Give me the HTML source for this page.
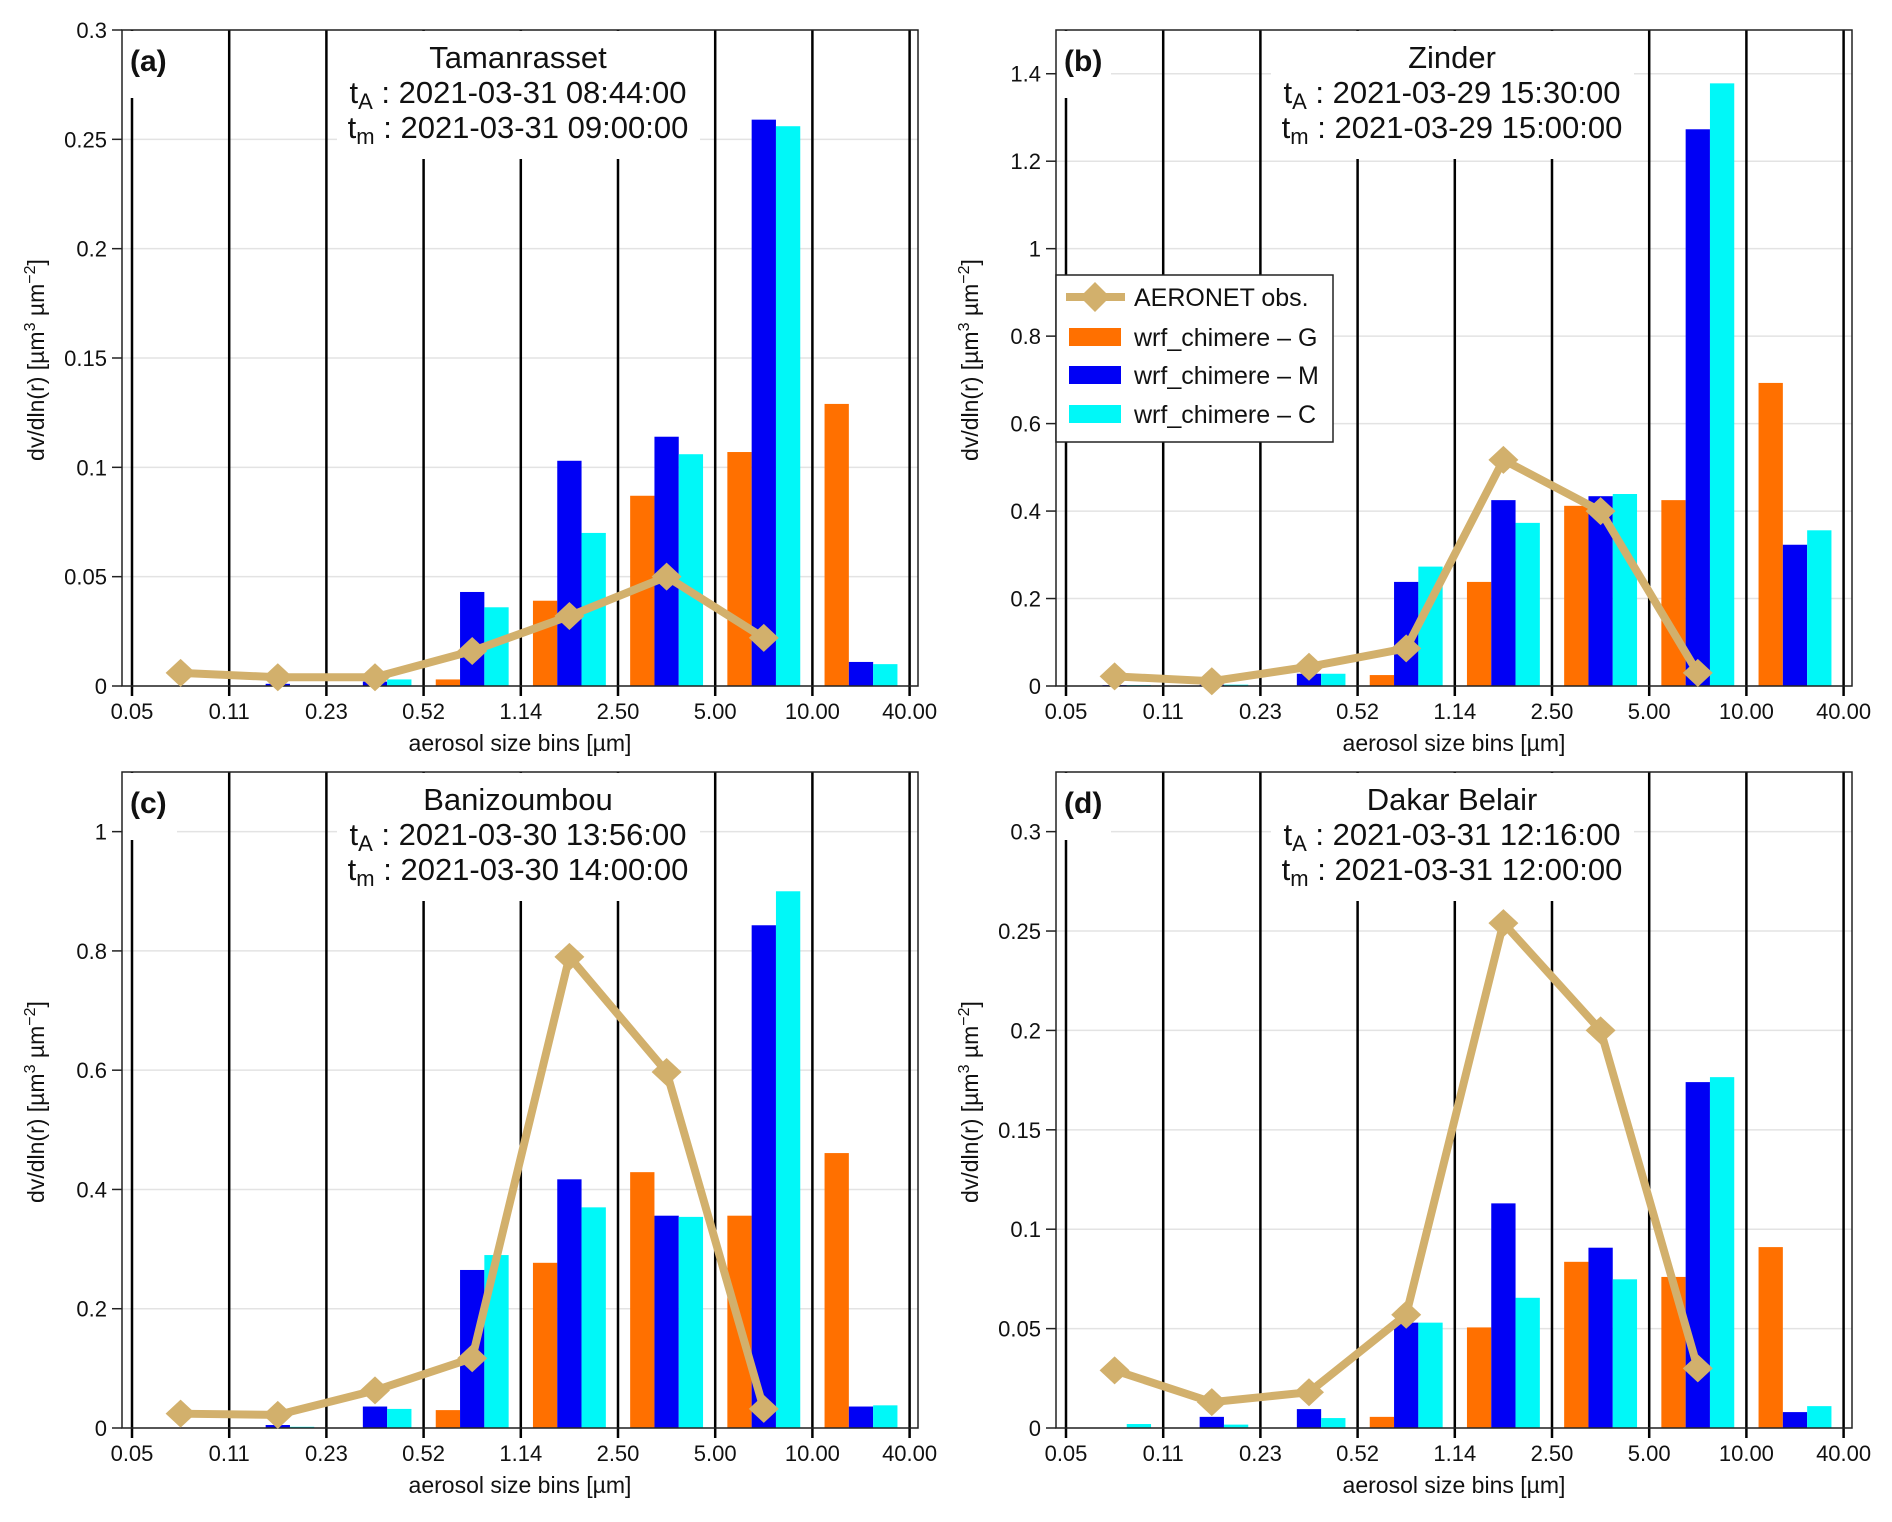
<!DOCTYPE html>
<html><head><meta charset="utf-8"><style>
html,body{margin:0;padding:0;background:#fff;}
svg{display:block;font-family:"Liberation Sans",sans-serif;}
</style></head><body>
<svg id="fig" width="1892" height="1522" viewBox="0 0 1892 1522" xmlns="http://www.w3.org/2000/svg"></svg>
<script>
const binLabels = ["0.05","0.11","0.23","0.52","1.14","2.50","5.00","10.00","40.00"];
// Panel (a) Tamanrasset
const aeronetA = [0.006,0.004,0.004,0.016,0.032,0.050,0.022];
const gA = [0,0,0,0.003,0.039,0.087,0.107,0.129];
const mA = [0,0.001,0.002,0.043,0.103,0.114,0.259,0.011];
const cA = [0,0,0.003,0.036,0.070,0.106,0.256,0.010];
const yTicksA = [0,0.05,0.1,0.15,0.2,0.25,0.3];
const yLabelsA = ["0","0.05","0.1","0.15","0.2","0.25","0.3"];
// Panel (b) Zinder
const aeronetB = [0.022,0.011,0.044,0.086,0.517,0.400,0.030];
const gB = [0,0,0,0.025,0.238,0.412,0.425,0.693];
const mB = [0.002,0.003,0.028,0.238,0.425,0.434,1.273,0.323];
const cB = [0.002,0.003,0.028,0.273,0.373,0.439,1.378,0.356];
const yTicksB = [0,0.2,0.4,0.6,0.8,1,1.2,1.4];
const yLabelsB = ["0","0.2","0.4","0.6","0.8","1","1.2","1.4"];
// Panel (c) Banizoumbou
const aeronetC = [0.024,0.022,0.063,0.117,0.790,0.597,0.032];
const gC = [0,0,0,0.030,0.277,0.429,0.356,0.461];
const mC = [0,0.005,0.036,0.265,0.417,0.356,0.843,0.036];
const cC = [0,0.002,0.032,0.290,0.370,0.354,0.900,0.038];
const yTicksC = [0,0.2,0.4,0.6,0.8,1];
const yLabelsC = ["0","0.2","0.4","0.6","0.8","1"];
// Panel (d) Dakar Belair
const aeronetD = [0.029,0.013,0.018,0.057,0.254,0.200,0.030];
const gD = [0,0,0,0.0056,0.0506,0.0836,0.076,0.091];
const mD = [0,0.0056,0.0095,0.053,0.113,0.0907,0.174,0.008];
const cD = [0.002,0.0017,0.005,0.053,0.0655,0.0748,0.1765,0.011];
const yTicksD = [0,0.05,0.1,0.15,0.2,0.25,0.3];
const yLabelsD = ["0","0.05","0.1","0.15","0.2","0.25","0.3"];

const panels = [
 {tag:"(a)",name:"Tamanrasset",tA:"2021-03-31 08:44:00",tm:"2021-03-31 09:00:00",left:122,top:30,ymax:0.3,obs:aeronetA,g:gA,m:mA,c:cA,ticks:yTicksA,labels:yLabelsA},
 {tag:"(b)",name:"Zinder",tA:"2021-03-29 15:30:00",tm:"2021-03-29 15:00:00",left:1056,top:30,ymax:1.5,obs:aeronetB,g:gB,m:mB,c:cB,ticks:yTicksB,labels:yLabelsB,legend:true},
 {tag:"(c)",name:"Banizoumbou",tA:"2021-03-30 13:56:00",tm:"2021-03-30 14:00:00",left:122,top:772,ymax:1.1,obs:aeronetC,g:gC,m:mC,c:cC,ticks:yTicksC,labels:yLabelsC},
 {tag:"(d)",name:"Dakar Belair",tA:"2021-03-31 12:16:00",tm:"2021-03-31 12:00:00",left:1056,top:772,ymax:0.33,obs:aeronetD,g:gD,m:mD,c:cD,ticks:yTicksD,labels:yLabelsD}
];
const COL = {g:"#ff7000", m:"#0000f5", c:"#00f8f8", obs:"#d2b06c"};
const NS = "http://www.w3.org/2000/svg";
const svg = document.getElementById("fig");
function mk(tag, attrs, parent){
  const e = document.createElementNS(NS, tag);
  for (const k in attrs) e.setAttribute(k, attrs[k]);
  (parent||svg).appendChild(e);
  return e;
}
const W = 796, H = 656, SP = 97.2;
panels.forEach((p, pi) => {
  const g = mk("g", {});
  
  
  const L = p.left, T = p.top, R = L + W, B = T + H;
  const xs = u => L + 10 + u * SP;
  const ys = v => B - v / p.ymax * H;
  p.ticks.forEach((t, i) => {
    const gl = mk("line", {x1:L, x2:R, y1:ys(t), y2:ys(t), stroke:"#e3e3e3", "stroke-width":1.5}, g);
    
    
    const tk = mk("line", {x1:L-10, x2:L, y1:ys(t), y2:ys(t), stroke:"#222", "stroke-width":1.5}, g);
    
    
    const tl = mk("text", {x:L-15, y:ys(t)+8, "text-anchor":"end", "font-size":22, fill:"#111"}, g);
    tl.textContent = p.labels[i];
    
    
  });
  binLabels.forEach((lab, i) => {
    const vl = mk("line", {x1:xs(i), x2:xs(i), y1:T, y2:B+10, stroke:"#000", "stroke-width":2.5}, g);
    
    
    const xl = mk("text", {x:xs(i), y:B+33, "text-anchor":"middle", "font-size":22, fill:"#111"}, g);
    xl.textContent = lab;
    
    
  });
  [["g",p.g],["m",p.m],["c",p.c]].forEach(([k, arr], si) => {
    arr.forEach((v, b) => {
      if (v <= 0) return;
      const x0 = xs(b + 0.125 + si * 0.25), x1 = xs(b + 0.375 + si * 0.25);
      const r = mk("rect", {x:x0, y:ys(v), width:x1-x0, height:B-ys(v), fill:COL[k]}, g);
      
      
    });
  });
  const tb = mk("rect", {x:L+215, y:T+1, width:363, height:128, fill:"#fff"}, g);
  
  
  const lb = mk("rect", {x:L+1, y:T+1, width:54, height:67, fill:"#fff"}, g);
  
  
  const fr = mk("rect", {x:L, y:T, width:W, height:H, fill:"none", stroke:"#222", "stroke-width":1.5}, g);
  
  
  const pts = p.obs.map((v, b) => xs(b + 0.5) + "," + ys(v)).join(" ");
  const pl = mk("polyline", {points:pts, fill:"none", stroke:COL.obs, "stroke-width":8, "stroke-linejoin":"round"}, g);
  
  
  p.obs.forEach((v, b) => {
    const cx = xs(b + 0.5), cy = ys(v);
    const d = mk("polygon", {points:`${cx-15},${cy} ${cx},${cy-14} ${cx+15},${cy} ${cx},${cy+14}`, fill:COL.obs}, g);
    
    
  });
  const tg = mk("text", {x:L+8, y:T+41, "font-size":30, "font-weight":"bold", fill:"#111"}, g);
  tg.textContent = p.tag;
  
  
  const cx = L + W/2 - 2;
  const t1 = mk("text", {x:cx, y:T+38, "text-anchor":"middle", "font-size":31, fill:"#111"}, g);
  t1.textContent = p.name;
  
  
  const t2 = mk("text", {x:cx, y:T+73, "text-anchor":"middle", "font-size":31, fill:"#111"}, g);
  t2.innerHTML = 't<tspan font-size="22" dy="6">A</tspan><tspan dy="-6"> : ' + p.tA + '</tspan>';
  
  
  const t3 = mk("text", {x:cx, y:T+108, "text-anchor":"middle", "font-size":31, fill:"#111"}, g);
  t3.innerHTML = 't<tspan font-size="22" dy="6">m</tspan><tspan dy="-6"> : ' + p.tm + '</tspan>';
  
  
  const xt = mk("text", {x:L + W/2, y:B+65, "text-anchor":"middle", "font-size":23, fill:"#111"}, g);
  xt.textContent = "aerosol size bins [µm]";
  
  
  const yt = mk("text", {x:0, y:0, "text-anchor":"middle", "font-size":23, fill:"#111", transform:`translate(${L-78},${T+H/2+2}) rotate(-90)`}, g);
  yt.innerHTML = 'dv/dln(r) [µm<tspan font-size="16" dy="-9">3</tspan><tspan dy="9"> µm</tspan><tspan font-size="16" dy="-9">−2</tspan><tspan dy="9">]</tspan>';
  
  
  if (p.legend) {
    const lg = mk("g", {}, g);
    
    
    mk("rect", {x:1056, y:275, width:277, height:167, fill:"#fff", stroke:"#222", "stroke-width":1.5}, lg);
    const ly = [297, 337, 375, 414];
    const ll = mk("line", {x1:1066, x2:1125, y1:ly[0], y2:ly[0], stroke:COL.obs, "stroke-width":8}, lg);
    
    
    const lm = mk("polygon", {points:`1080,297 1095,282 1110,297 1095,312`, fill:COL.obs}, lg);
    
    
    const names = ["AERONET obs.","wrf_chimere – G","wrf_chimere – M","wrf_chimere – C"];
    const cols = [null, COL.g, COL.m, COL.c];
    names.forEach((n, i) => {
      if (cols[i]) {
        const pr = mk("rect", {x:1069, y:ly[i]-9, width:52, height:18, fill:cols[i]}, lg);
        
        
      }
      const lt = mk("text", {x:1134, y:ly[i]+9, "font-size":25, fill:"#111"}, lg);
      lt.textContent = n;
      
      
    });
  }
});
</script>
</body></html>
